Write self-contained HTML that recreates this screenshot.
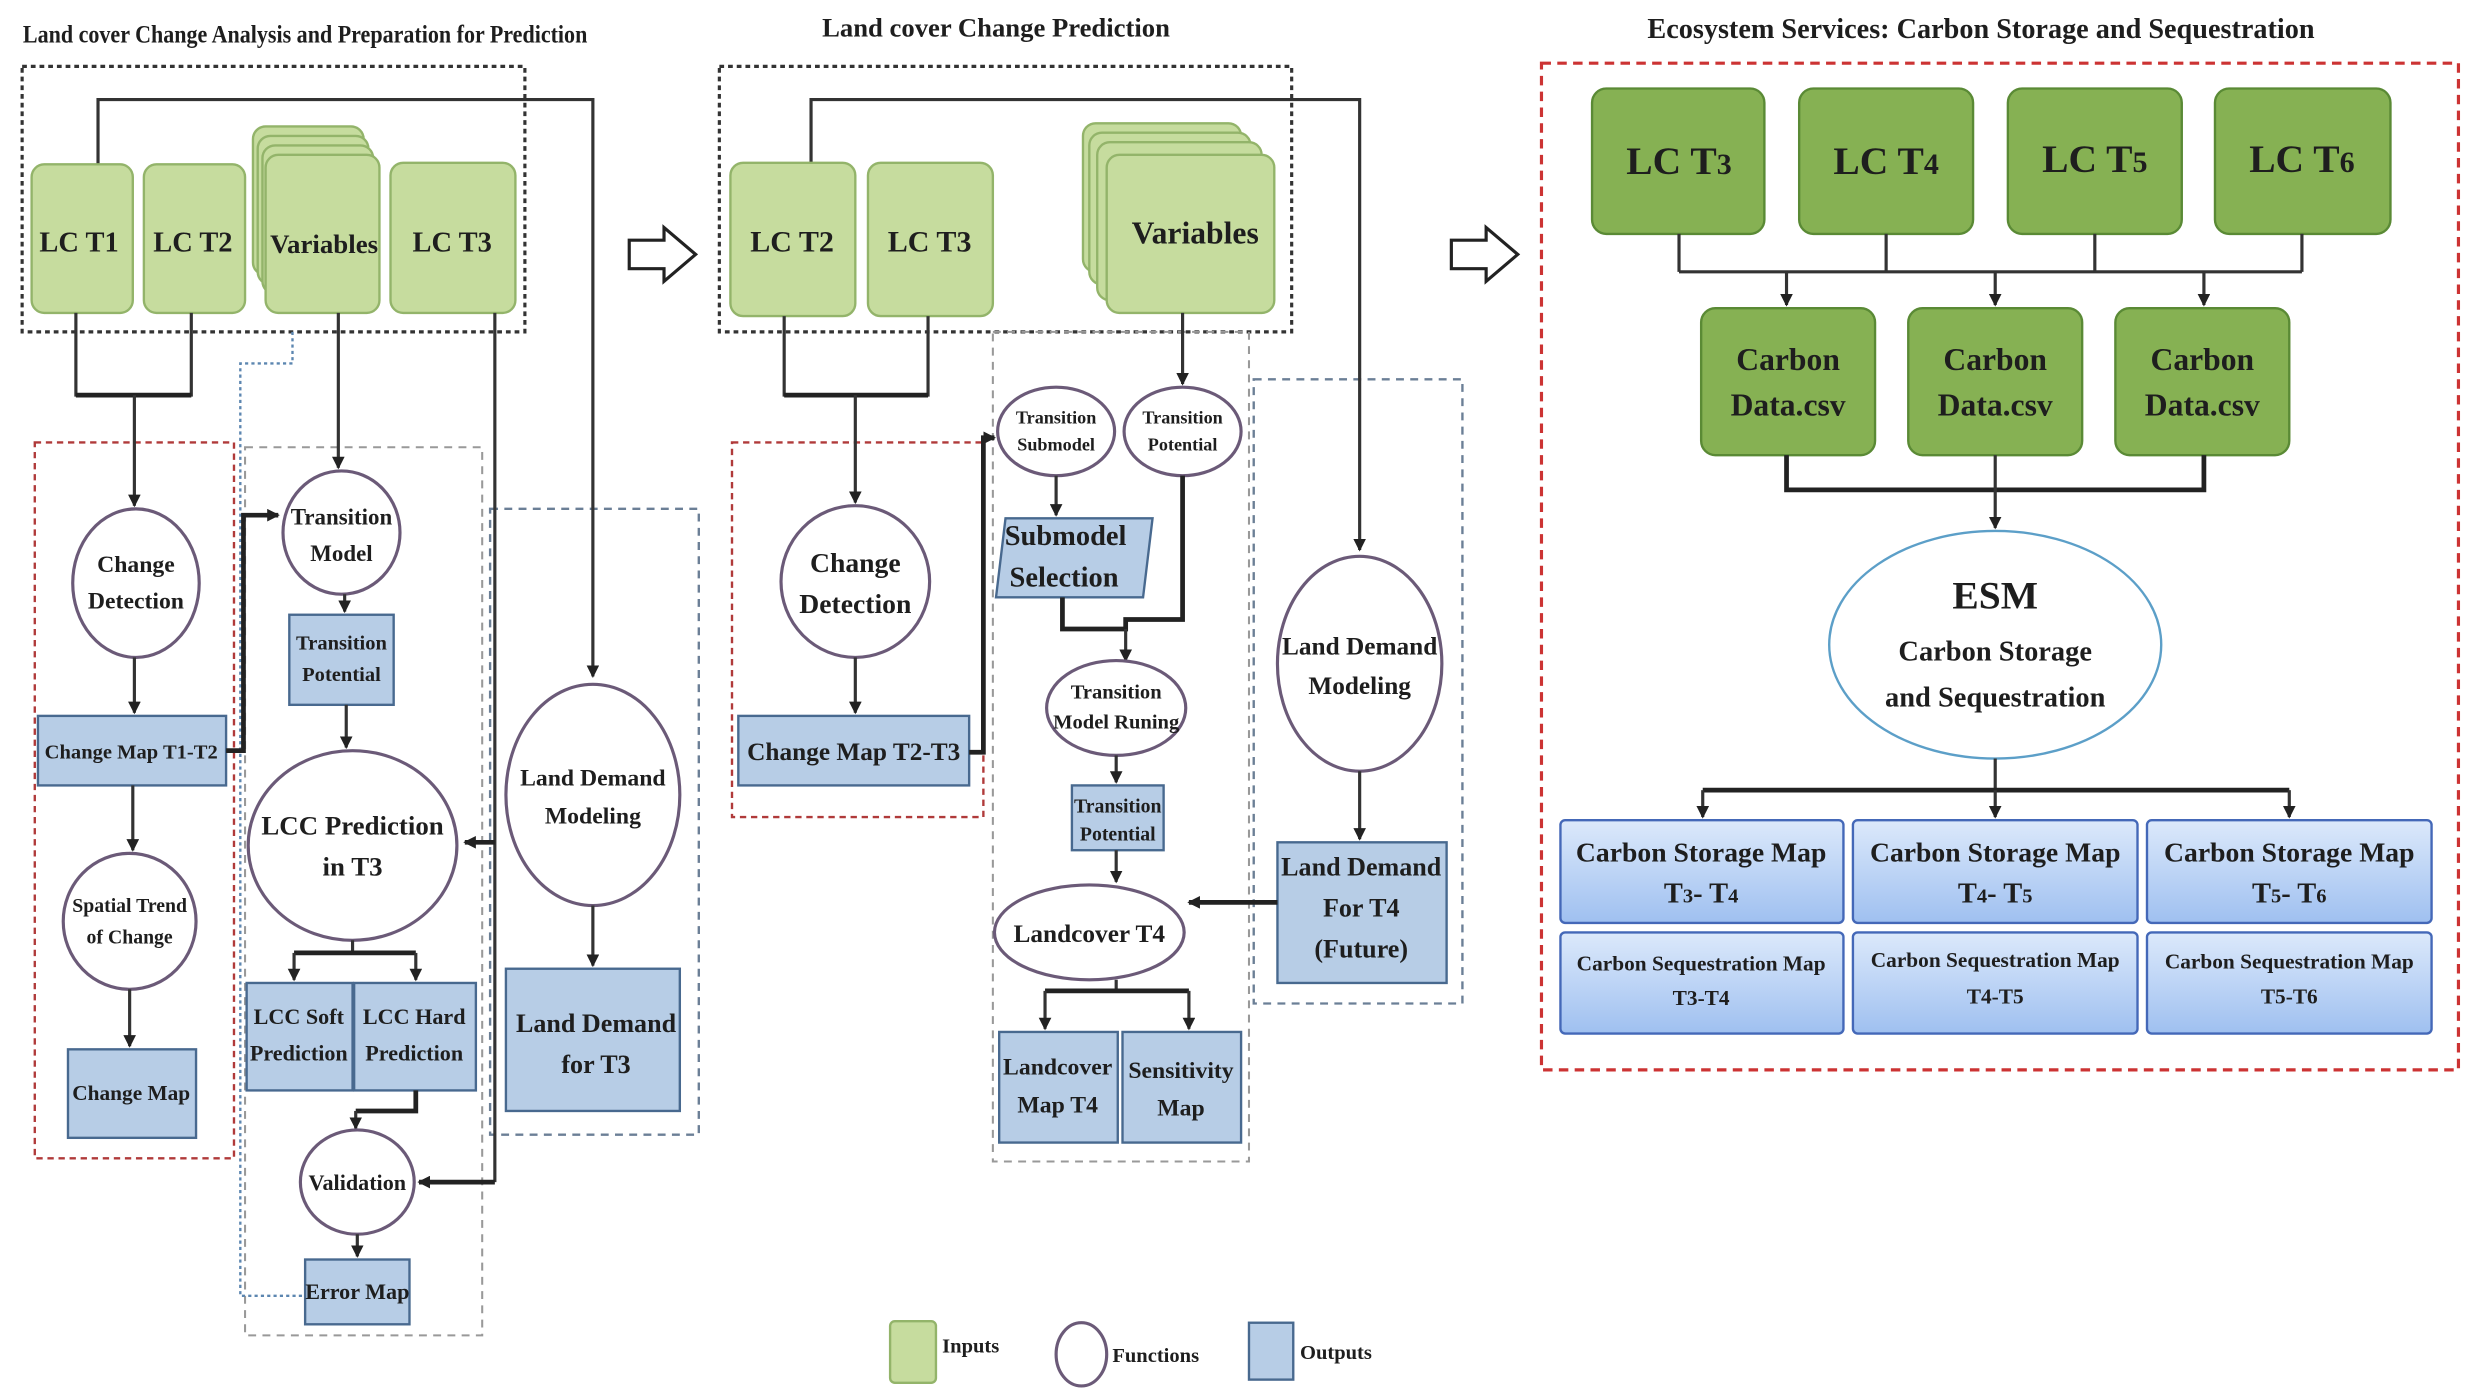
<!DOCTYPE html>
<html><head><meta charset="utf-8"><style>
html,body{margin:0;padding:0;background:#fff;width:2479px;height:1397px;overflow:hidden}
svg{display:block}
text{font-family:"Liberation Serif",serif;font-weight:bold;fill:#1e1e1e;text-anchor:middle}
.g{fill:#c6dc9e;stroke:#93b46a;stroke-width:1.5}
.dg{fill:#86b153;stroke:#5a8a35;stroke-width:1.5}
.b{fill:#b7cde6;stroke:#48698f;stroke-width:1.5}
.bb{fill:url(#bg);stroke:#4468b8;stroke-width:1.5}
.c{fill:#fff;stroke:#6b5a78;stroke-width:2}
.l{stroke:#333;stroke-width:2;fill:none}
.t{stroke:#222;stroke-width:3;fill:none}
</style></head><body>
<svg width="2479" height="1397" viewBox="0 0 1568 884" preserveAspectRatio="none" xmlns="http://www.w3.org/2000/svg">
<defs>
<marker id="a" markerWidth="8" markerHeight="8" refX="7" refY="4" orient="auto" markerUnits="userSpaceOnUse"><path d="M0,0 L8,4 L0,8 z" fill="#222"/></marker>
<linearGradient id="bg" x1="0" y1="0" x2="0" y2="1"><stop offset="0" stop-color="#dce9fb"/><stop offset="1" stop-color="#9fc0f0"/></linearGradient>
</defs>

<text x="193" y="27" font-size="16" textLength="357" lengthAdjust="spacingAndGlyphs">Land cover Change Analysis and Preparation for Prediction</text>
<text x="630" y="23" font-size="17" textLength="220" lengthAdjust="spacingAndGlyphs">Land cover Change Prediction</text>
<text x="1253" y="24" font-size="18" textLength="422" lengthAdjust="spacingAndGlyphs">Ecosystem Services: Carbon Storage and Sequestration</text>

<!-- LEFT -->
<rect x="14" y="42" width="318" height="168" fill="none" stroke="#333" stroke-width="2" stroke-dasharray="3,2.5"/>
<rect x="22" y="280" width="126" height="453" fill="none" stroke="#b03a3a" stroke-width="1.5" stroke-dasharray="4,3"/>
<rect x="155" y="283" width="150" height="562" fill="none" stroke="#999" stroke-width="1.3" stroke-dasharray="5,4"/>
<rect x="310" y="322" width="132" height="396" fill="none" stroke="#6b7f96" stroke-width="1.5" stroke-dasharray="5,4"/>
<path d="M185,210 V230 H152 V820 H193" fill="none" stroke="#5c86b0" stroke-width="1.5" stroke-dasharray="2,2"/>

<path class="l" d="M62,104 V63 H375 V428" marker-end="url(#a)"/>
<rect class="g" x="20" y="104" width="64" height="94" rx="8"/>
<text x="50" y="159" font-size="18">LC T1</text>
<rect class="g" x="91" y="104" width="64" height="94" rx="8"/>
<text x="122" y="159" font-size="18">LC T2</text>
<rect class="g" x="160" y="80" width="70" height="94" rx="8"/>
<rect class="g" x="163" y="86" width="70" height="94" rx="8"/>
<rect class="g" x="166" y="92" width="70" height="94" rx="8"/>
<rect class="g" x="168" y="98" width="72" height="100" rx="8"/>
<text x="205" y="160" font-size="17">Variables</text>
<rect class="g" x="247" y="103" width="79" height="95" rx="8"/>
<text x="286" y="159" font-size="18">LC T3</text>

<path class="l" d="M48,198 V250 H121 V198"/>
<path class="t" d="M48,250 H121"/>
<path class="l" d="M85,250 V320" marker-end="url(#a)"/>
<ellipse class="c" cx="86" cy="369" rx="40" ry="47"/>
<text x="86" y="362" font-size="15">Change</text><text x="86" y="385" font-size="15">Detection</text>
<path class="l" d="M85,416 V451" marker-end="url(#a)"/>
<rect class="b" x="24" y="453" width="119" height="44"/>
<text x="83" y="480" font-size="13">Change Map T1-T2</text>
<path class="l" d="M84,497 V538" marker-end="url(#a)"/>
<ellipse class="c" cx="82" cy="583" rx="42" ry="43"/>
<text x="82" y="577" font-size="12.5">Spatial Trend</text><text x="82" y="597" font-size="12.5">of Change</text>
<path class="l" d="M82,626 V662" marker-end="url(#a)"/>
<rect class="b" x="43" y="664" width="81" height="56"/>
<text x="83" y="696" font-size="13.5">Change Map</text>

<path class="t" d="M143,475 H154 V326 H176" marker-end="url(#a)"/>
<path class="l" d="M214,198 V296" marker-end="url(#a)"/>
<ellipse class="c" cx="216" cy="337" rx="37" ry="39"/>
<text x="216" y="332" font-size="14.5">Transition</text><text x="216" y="355" font-size="14.5">Model</text>
<path class="l" d="M218,376 V387" marker-end="url(#a)"/>
<rect class="b" x="183" y="389" width="66" height="57"/>
<text x="216" y="411" font-size="13">Transition</text><text x="216" y="431" font-size="13">Potential</text>
<path class="l" d="M219,446 V473" marker-end="url(#a)"/>
<ellipse class="c" cx="223" cy="535" rx="66" ry="60"/>
<text x="223" y="528" font-size="17">LCC Prediction</text><text x="223" y="554" font-size="17">in T3</text>

<path class="l" d="M223,595 V603"/>
<path class="t" d="M186,603 H263"/>
<path class="l" d="M186,603 V620" marker-end="url(#a)"/><path class="l" d="M263,603 V620" marker-end="url(#a)"/>
<rect class="b" x="156" y="622" width="67" height="68"/>
<text x="189" y="648" font-size="14">LCC Soft</text><text x="189" y="671" font-size="14">Prediction</text>
<rect class="b" x="224" y="622" width="77" height="68"/>
<text x="262" y="648" font-size="14">LCC Hard</text><text x="262" y="671" font-size="14">Prediction</text>
<path class="t" d="M263,690 V703 H225"/>
<path class="l" d="M225,703 V714" marker-end="url(#a)"/>
<ellipse class="c" cx="226" cy="748" rx="36" ry="33"/>
<text x="226" y="753" font-size="14">Validation</text>
<path class="l" d="M226,781 V795" marker-end="url(#a)"/>
<rect class="b" x="193" y="797" width="66" height="41"/>
<text x="226" y="822" font-size="14">Error Map</text>

<path class="l" d="M313,198 V748"/>
<path class="t" d="M313,748 H265" marker-end="url(#a)"/>
<path class="t" d="M313,533 H294" marker-end="url(#a)"/>

<ellipse class="c" cx="375" cy="503" rx="55" ry="70"/>
<text x="375" y="497" font-size="15">Land Demand</text><text x="375" y="521" font-size="15">Modeling</text>
<path class="l" d="M375,573 V611" marker-end="url(#a)"/>
<rect class="b" x="320" y="613" width="110" height="90"/>
<text x="377" y="653" font-size="16.5">Land Demand</text><text x="377" y="679" font-size="16.5">for T3</text>

<path d="M398,152 H420 V144 L440,161 L420,178 V170 H398 Z" fill="#fff" stroke="#222" stroke-width="2"/>
<path d="M918,152 H940 V144 L960,161 L940,178 V170 H918 Z" fill="#fff" stroke="#222" stroke-width="2"/>

<!-- MIDDLE -->
<rect x="455" y="42" width="362" height="168" fill="none" stroke="#333" stroke-width="2" stroke-dasharray="3,2.5"/>
<rect x="463" y="280" width="159" height="237" fill="none" stroke="#b03a3a" stroke-width="1.5" stroke-dasharray="4,3"/>
<rect x="628" y="210" width="162" height="525" fill="none" stroke="#999" stroke-width="1.3" stroke-dasharray="5,4"/>
<rect x="793" y="240" width="132" height="395" fill="none" stroke="#6b7f96" stroke-width="1.5" stroke-dasharray="5,4"/>

<path class="l" d="M513,104 V63 H860 V348" marker-end="url(#a)"/>
<rect class="g" x="462" y="103" width="79" height="97" rx="8"/>
<text x="501" y="159" font-size="19">LC T2</text>
<rect class="g" x="549" y="103" width="79" height="97" rx="8"/>
<text x="588" y="159" font-size="19">LC T3</text>
<rect class="g" x="685" y="78" width="100" height="94" rx="8"/>
<rect class="g" x="689" y="84" width="102" height="96" rx="8"/>
<rect class="g" x="694" y="90" width="104" height="100" rx="8"/>
<rect class="g" x="700" y="98" width="106" height="100" rx="8"/>
<text x="756" y="154" font-size="20">Variables</text>

<path class="l" d="M496,200 V250 H587 V200"/>
<path class="t" d="M496,250 H587"/>
<path class="l" d="M541,250 V318" marker-end="url(#a)"/>
<ellipse class="c" cx="541" cy="368" rx="47" ry="48"/>
<text x="541" y="362" font-size="17.5">Change</text><text x="541" y="388" font-size="17.5">Detection</text>
<path class="l" d="M541,416 V451" marker-end="url(#a)"/>
<rect class="b" x="467" y="453" width="146" height="44"/>
<text x="540" y="481" font-size="16">Change Map T2-T3</text>
<path class="t" d="M613,476 H622 V277 H629" marker-end="url(#a)"/>

<path class="l" d="M748,198 V243" marker-end="url(#a)"/>
<ellipse class="c" cx="668" cy="273" rx="37" ry="28"/>
<text x="668" y="268" font-size="11.5">Transition</text><text x="668" y="285" font-size="11.5">Submodel</text>
<ellipse class="c" cx="748" cy="273" rx="37" ry="28"/>
<text x="748" y="268" font-size="11.5">Transition</text><text x="748" y="285" font-size="11.5">Potential</text>
<path class="l" d="M668,301 V326" marker-end="url(#a)"/>
<path class="b" d="M636,328 H729 L723,378 H630 Z"/>
<text x="674" y="345" font-size="18">Submodel</text><text x="673" y="371" font-size="18">Selection</text>
<path class="t" d="M672,378 V398 H712 V392 H748 V301"/>
<path class="l" d="M712,398 V418" marker-end="url(#a)"/>
<ellipse class="c" cx="706" cy="448" rx="44" ry="30"/>
<text x="706" y="442" font-size="13">Transition</text><text x="706" y="461" font-size="13">Model Runing</text>
<path class="l" d="M706,478 V495" marker-end="url(#a)"/>
<rect class="b" x="678" y="497" width="58" height="41"/>
<text x="707" y="514" font-size="12.5">Transition</text><text x="707" y="532" font-size="12.5">Potential</text>
<path class="l" d="M706,538 V558" marker-end="url(#a)"/>
<ellipse class="c" cx="689" cy="590" rx="60" ry="30"/>
<text x="689" y="596" font-size="16">Landcover T4</text>
<path class="l" d="M706,620 V627"/>
<path class="t" d="M661,627 H752"/>
<path class="l" d="M661,627 V651" marker-end="url(#a)"/><path class="l" d="M752,627 V651" marker-end="url(#a)"/>
<rect class="b" x="632" y="653" width="75" height="70"/>
<text x="669" y="680" font-size="15">Landcover</text><text x="669" y="704" font-size="15">Map T4</text>
<rect class="b" x="710" y="653" width="75" height="70"/>
<text x="747" y="682" font-size="15">Sensitivity</text><text x="747" y="706" font-size="15">Map</text>

<ellipse class="c" cx="860" cy="420" rx="52" ry="68"/>
<text x="860" y="414" font-size="16">Land Demand</text><text x="860" y="439" font-size="16">Modeling</text>
<path class="l" d="M860,488 V531" marker-end="url(#a)"/>
<rect class="b" x="808" y="533" width="107" height="89"/>
<text x="861" y="554" font-size="16.5">Land Demand</text><text x="861" y="580" font-size="16.5">For T4</text><text x="861" y="606" font-size="16.5">(Future)</text>
<path class="t" d="M808,571 H752" marker-end="url(#a)"/>

<!-- RIGHT -->
<rect x="975" y="40" width="580" height="637" fill="none" stroke="#cc3333" stroke-width="2" stroke-dasharray="6,4"/>
<rect class="dg" x="1007" y="56" width="109" height="92" rx="9"/>
<text x="1062" y="110" font-size="25">LC T<tspan font-size="19">3</tspan></text>
<rect class="dg" x="1138" y="56" width="110" height="92" rx="9"/>
<text x="1193" y="110" font-size="25">LC T<tspan font-size="19">4</tspan></text>
<rect class="dg" x="1270" y="56" width="110" height="92" rx="9"/>
<text x="1325" y="109" font-size="25">LC T<tspan font-size="19">5</tspan></text>
<rect class="dg" x="1401" y="56" width="111" height="92" rx="9"/>
<text x="1456" y="109" font-size="25">LC T<tspan font-size="19">6</tspan></text>
<path class="l" d="M1062,148 V172 M1193,148 V172 M1325,148 V172 M1456,148 V172 M1062,172 H1456"/>
<path class="l" d="M1130,172 V193" marker-end="url(#a)"/><path class="l" d="M1262,172 V193" marker-end="url(#a)"/><path class="l" d="M1394,172 V193" marker-end="url(#a)"/>
<rect class="dg" x="1076" y="195" width="110" height="93" rx="9"/>
<text x="1131" y="234" font-size="20">Carbon</text><text x="1131" y="263" font-size="20">Data.csv</text>
<rect class="dg" x="1207" y="195" width="110" height="93" rx="9"/>
<text x="1262" y="234" font-size="20">Carbon</text><text x="1262" y="263" font-size="20">Data.csv</text>
<rect class="dg" x="1338" y="195" width="110" height="93" rx="9"/>
<text x="1393" y="234" font-size="20">Carbon</text><text x="1393" y="263" font-size="20">Data.csv</text>
<path class="t" d="M1130,288 V310 H1394 V288"/>
<path class="l" d="M1262,288 V334" marker-end="url(#a)"/>
<ellipse cx="1262" cy="408" rx="105" ry="72" fill="#fff" stroke="#5c9fc8" stroke-width="1.5"/>
<text x="1262" y="385" font-size="25">ESM</text>
<text x="1262" y="418" font-size="18">Carbon Storage</text>
<text x="1262" y="447" font-size="18">and Sequestration</text>
<path class="l" d="M1262,480 V500"/>
<path class="t" d="M1077,500 H1448"/>
<path class="l" d="M1077,500 V517" marker-end="url(#a)"/><path class="l" d="M1262,500 V517" marker-end="url(#a)"/><path class="l" d="M1448,500 V517" marker-end="url(#a)"/>
<rect class="bb" x="987" y="519" width="179" height="65" rx="3"/>
<text x="1076" y="545" font-size="17.5">Carbon Storage Map</text><text x="1076" y="571" font-size="18">T<tspan font-size="13">3</tspan>- T<tspan font-size="13">4</tspan></text>
<rect class="bb" x="1172" y="519" width="180" height="65" rx="3"/>
<text x="1262" y="545" font-size="17.5">Carbon Storage Map</text><text x="1262" y="571" font-size="18">T<tspan font-size="13">4</tspan>- T<tspan font-size="13">5</tspan></text>
<rect class="bb" x="1358" y="519" width="180" height="65" rx="3"/>
<text x="1448" y="545" font-size="17.5">Carbon Storage Map</text><text x="1448" y="571" font-size="18">T<tspan font-size="13">5</tspan>- T<tspan font-size="13">6</tspan></text>
<rect class="bb" x="987" y="590" width="179" height="64" rx="3"/>
<text x="1076" y="614" font-size="13.5">Carbon Sequestration Map</text><text x="1076" y="636" font-size="13.5">T3-T4</text>
<rect class="bb" x="1172" y="590" width="180" height="64" rx="3"/>
<text x="1262" y="612" font-size="13.5">Carbon Sequestration Map</text><text x="1262" y="635" font-size="13.5">T4-T5</text>
<rect class="bb" x="1358" y="590" width="180" height="64" rx="3"/>
<text x="1448" y="613" font-size="13.5">Carbon Sequestration Map</text><text x="1448" y="635" font-size="13.5">T5-T6</text>

<!-- legend -->
<rect class="g" x="563" y="836" width="29" height="39" rx="3"/>
<text x="614" y="856" font-size="13">Inputs</text>
<ellipse class="c" cx="684" cy="857" rx="16" ry="20"/>
<text x="731" y="862" font-size="13">Functions</text>
<rect class="b" x="790" y="837" width="28" height="36"/>
<text x="845" y="860" font-size="13">Outputs</text>
</svg>
</body></html>
